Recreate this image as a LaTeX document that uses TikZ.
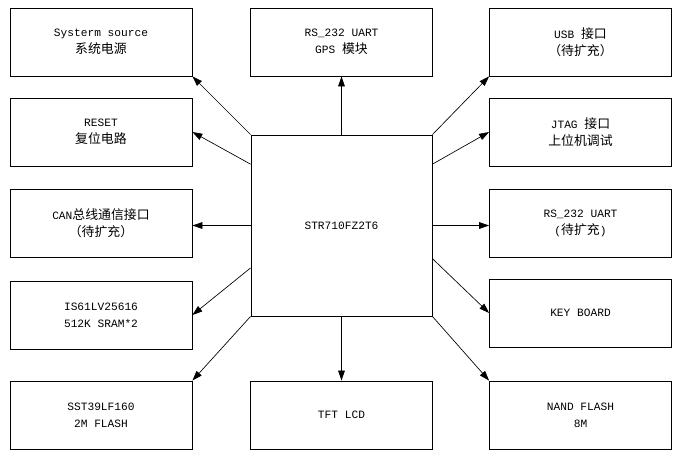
\documentclass[tikz,border=0pt]{standalone}
\usepackage{fontspec}
\setmainfont{Liberation Mono}
\newfontfamily\zhfont{Noto Sans CJK SC}[Scale=1.15]
\usetikzlibrary{arrows.meta}
\newcommand{\zh}[1]{{\zhfont #1}}
\tikzset{
  blk/.style={draw, line width=0.6pt, minimum width=136.5pt, minimum height=51pt,
    inner sep=0pt, align=center, font=\fontsize{8.4pt}{12.75pt}\selectfont},
  link/.style={line width=0.5pt, -{Triangle[length=7.5pt,width=5pt]}}
}

\begin{document}
\begin{tikzpicture}[x=0.75pt,y=-0.75pt]
  \useasboundingbox (0,0) rectangle (694,455);
  \node[blk, minimum height=135.75pt, minimum width=135.75pt] (chip) at (341.5,225.5) {STR710FZ2T6};

  \node[blk] (power) at (101,42)  {Systerm source\\\zh{系统电源}};
  \node[blk] (reset) at (101,132) {RESET\\\zh{复位电路}};
  \node[blk] (can)   at (101,223) {CAN\zh{总线通信接口}\\\zh{（待扩充）}};
  \node[blk] (sram)  at (101,315) {IS61LV25616\\512K SRAM*2};
  \node[blk] (nor)   at (101,415) {SST39LF160\\2M FLASH};

  \node[blk] (gps)   at (341.5,42)  {RS\_232 UART\\GPS \zh{模块}};
  \node[blk] (lcd)   at (341.5,415) {TFT LCD};

  \node[blk] (usb)   at (580.5,42)  {USB \zh{接口}\\\zh{（待扩充）}};
  \node[blk] (jtag)  at (580.5,132) {JTAG \zh{接口}\\\zh{上位机调试}};
  \node[blk] (uart)  at (580.5,223) {RS\_232 UART\\(\zh{待扩充})};
  \node[blk] (key)   at (580.5,313) {KEY BOARD};
  \node[blk] (nand)  at (580.5,415) {NAND FLASH\\8M};

  \draw[link] (chip.north) -- (gps.south);
  \draw[link] (chip.south) -- (lcd.north);
  \draw[link] (chip.north west) -- (power.south east);
  \draw[link] (chip.146) -- (reset.east);
  \draw[link] (chip.west) -- (can.east |- chip.west);
  \draw[link] (chip.205) -- (sram.east);
  \draw[link] (chip.south west) -- (nor.north east);
  \draw[link] (chip.north east) -- (usb.south west);
  \draw[link] (chip.34) -- (jtag.west);
  \draw[link] (chip.east) -- (uart.west |- chip.east);
  \draw[link] (chip.340) -- (key.west);
  \draw[link] (chip.south east) -- (nand.north west);
\end{tikzpicture}
\end{document}
